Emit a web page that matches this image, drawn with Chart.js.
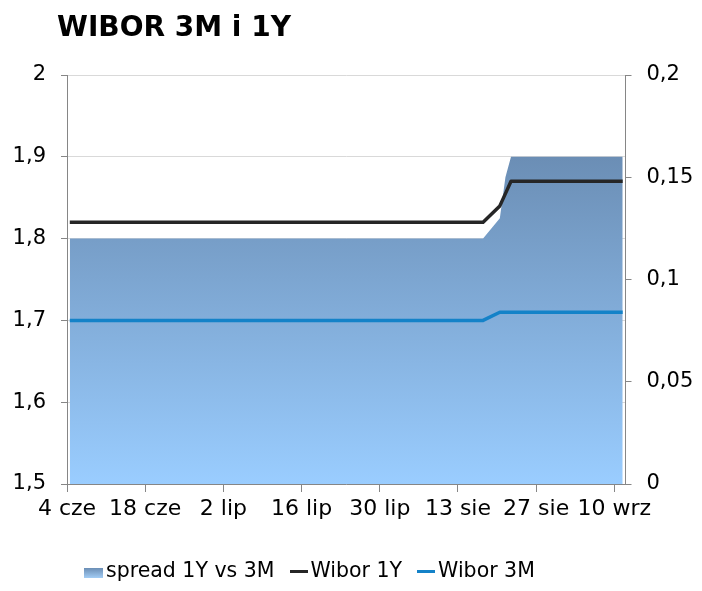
<!DOCTYPE html>
<html lang="pl">
<head>
<meta charset="utf-8">
<title>WIBOR 3M i 1Y</title>
<script src="https://cdn.jsdelivr.net/npm/chart.js@4.4.1/dist/chart.umd.min.js"></script>
<style>
  html, body { margin: 0; padding: 0; background: #fff; }
  #wrap { position: relative; width: 702px; height: 591px; font-family: 'DejaVu Sans', Verdana, sans-serif; }
  #wrap canvas { position: absolute; left: 0; top: 0; }
  #title { position: absolute; left: 57px; top: 13px; font-size: 28px; font-weight: bold; line-height: 1; color: #000; white-space: nowrap; }
  #legend { position: absolute; left: 84px; top: 560px; display: flex; font-size: 20.5px; line-height: 1; color: #000; white-space: nowrap; }
  #legend .item { display: flex; margin-right: 15px; }
  #legend .sw { position: relative; margin-right: 3px; }
</style>
</head>
<body>
<div id="wrap">
  <canvas id="chart" width="702" height="591"></canvas>
  <div id="title">WIBOR 3M i 1Y</div>
  <div id="legend"></div>
</div>
<script>
// daily fixings, only the days where the curve changes shape
const startDate = '2018-06-04';
const dates   = ['2018-06-04', '2018-08-17', '2018-08-20', '2018-08-21', '2018-08-22', '2018-09-11'];
const wibor1Y = [1.82, 1.82, 1.84, 1.855, 1.87, 1.87];
const wibor3M = [1.70, 1.70, 1.71, 1.71, 1.71, 1.71];
const spread  = [0.12, 0.12, 0.13, 0.15, 0.16, 0.16];

const xTickLabels = ['4 cze', '18 cze', '2 lip', '16 lip', '30 lip', '13 sie', '27 sie', '10 wrz'];
const seriesNames = ['spread 1Y vs 3M', 'Wibor 1Y', 'Wibor 3M'];

// x = day number since start, point sits in the middle of its day
const DAY = 86400000;
const dayOf = d => (Date.parse(d) - Date.parse(startDate)) / DAY + 0.5;
const toPoints = vals => vals.map((v, i) => ({ x: dayOf(dates[i]), y: v }));

const fmt = v => String(Math.round(v * 100) / 100).replace('.', ',');

Chart.defaults.font.family = "'DejaVu Sans', Verdana, sans-serif";
Chart.defaults.font.size = 21;
Chart.defaults.color = '#000';

const axisGray = '#868686';

function spreadFill(ctx) {
  const chart = ctx.chart;
  const area = chart.chartArea;
  if (!area) return '#80a8d4';
  const top = chart.scales.y1.getPixelForValue(Math.max(...spread));
  const g = chart.ctx.createLinearGradient(0, top, 0, area.bottom);
  g.addColorStop(0, '#6b8eb5');
  g.addColorStop(1, '#9acdff');
  return g;
}

const chart = new Chart(document.getElementById('chart'), {
  type: 'line',
  data: {
    datasets: [
      {
        label: seriesNames[0],
        data: toPoints(spread),
        yAxisID: 'y1',
        fill: 'origin',
        backgroundColor: spreadFill,
        borderColor: 'rgba(0,0,0,0)',
        borderWidth: 0,
        pointRadius: 0,
        order: 3
      },
      {
        label: seriesNames[1],
        data: toPoints(wibor1Y),
        yAxisID: 'y',
        borderColor: '#262626',
        borderWidth: 3.5,
        borderJoinStyle: 'round',
        pointRadius: 0,
        fill: false,
        order: 2
      },
      {
        label: seriesNames[2],
        data: toPoints(wibor3M),
        yAxisID: 'y',
        borderColor: '#1482c8',
        borderWidth: 3.5,
        borderJoinStyle: 'round',
        pointRadius: 0,
        fill: false,
        order: 1
      }
    ]
  },
  options: {
    responsive: false,
    animation: false,
    layout: { padding: { top: 75, left: 0, right: 0, bottom: 0 } },
    plugins: {
      legend: { display: false },
      tooltip: { enabled: false },
      title: { display: false }
    },
    scales: {
      x: {
        type: 'linear',
        position: 'bottom',
        min: 0,
        max: 100,
        ticks: {
          stepSize: 14,
          includeBounds: false,
          autoSkip: false,
          maxRotation: 0,
          padding: 4,
          font: { size: 22 },
          callback: v => xTickLabels[Math.round(v / 14)] ?? ''
        },
        grid: { drawOnChartArea: false, tickLength: 8, tickColor: axisGray },
        border: { color: axisGray },
        afterFit: s => { s.height = 107; }
      },
      y: {
        position: 'left',
        min: 1.5,
        max: 2,
        ticks: { stepSize: 0.1, padding: 15, callback: fmt },
        grid: { color: '#d9d9d9', tickLength: 6, tickColor: axisGray },
        border: { color: axisGray },
        afterFit: s => { s.width = 67; }
      },
      y1: {
        position: 'right',
        min: 0,
        max: 0.2,
        ticks: { stepSize: 0.05, padding: 15, callback: fmt },
        grid: { drawOnChartArea: false, tickLength: 6, tickColor: axisGray },
        border: { color: axisGray },
        afterFit: s => { s.width = 76.5; }
      }
    }
  }
});

// html legend built from the datasets
const legend = document.getElementById('legend');
chart.data.datasets.forEach((ds, i) => {
  const item = document.createElement('div');
  item.className = 'item';
  const sw = document.createElement('span');
  sw.className = 'sw';
  if (i === 0) {
    sw.style.cssText = 'width:19px;height:10px;top:8px;background:linear-gradient(#6b8eb5,#a3cdf5);';
  } else {
    sw.style.cssText = 'width:18px;height:3px;top:10px;background:' + ds.borderColor + ';';
  }
  const txt = document.createElement('span');
  txt.textContent = ds.label;
  item.appendChild(sw);
  item.appendChild(txt);
  legend.appendChild(item);
});
</script>
</body>
</html>
